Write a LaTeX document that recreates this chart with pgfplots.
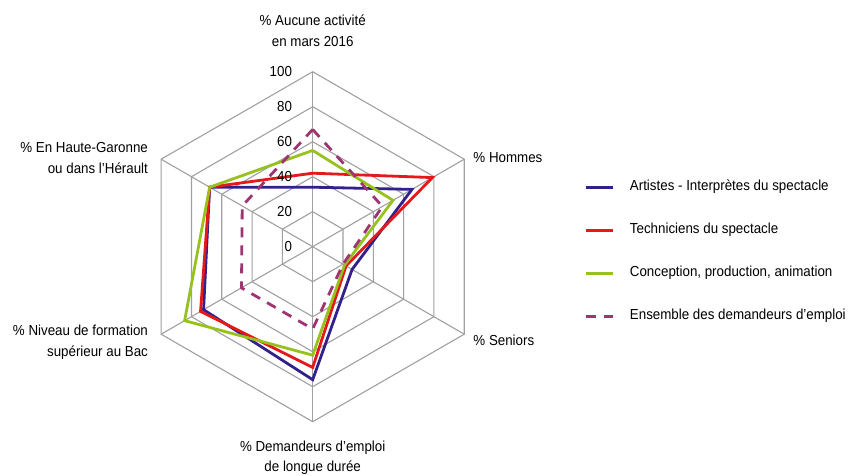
\documentclass[border=0pt]{standalone}
\usepackage{pgfplots}
\pgfplotsset{compat=1.18}
\usepgfplotslibrary{polar}
\usepackage{fontspec}
\setmainfont{Liberation Sans}[FakeStretch=0.92]
\definecolor{cblue}{HTML}{31218A}
\definecolor{cred}{HTML}{E3191B}
\definecolor{cgreen}{HTML}{97C21E}
\definecolor{cpurple}{HTML}{9E3470}
\definecolor{cgrid}{HTML}{A0A0A0}
\begin{document}
\begin{tikzpicture}
\useasboundingbox (-312.7pt,-229.3pt) rectangle (535.3pt,246.7pt);
\begin{polaraxis}[
  at={(0pt,0pt)}, anchor=center,
  scale only axis, width=350pt, height=350pt,
  ymin=0, ymax=100, xmin=0, xmax=360,
  hide axis, clip=false,
  font=\fontsize{14.5}{20.5}\selectfont,
  legend style={at={(axis description cs:1.275,0.486)}, anchor=west,
    draw=none, fill=none, inner sep=0pt, row sep=29.5pt, column sep=16pt,
    nodes={inner sep=0pt, text height=10.5pt, text depth=3pt},
    font=\fontsize{14.5}{17}\selectfont},
  legend cell align=left,
  legend image code/.code={\draw[#1] (0pt,0pt) -- (27pt,0pt);},
]
% grid hexagons
\foreach \r in {20,40,60,80,100}{
  \edef\tmp{\noexpand\addplot[cgrid, line width=1.1pt, forget plot] coordinates {(90,\r)(30,\r)(330,\r)(270,\r)(210,\r)(150,\r)(90,\r)};}
  \tmp
}
\addplot[cgrid, line width=1.1pt, forget plot] coordinates {(90,0)(90,100)};
\addplot[cgrid, line width=1.1pt, forget plot] coordinates {(30,0)(30,100)};
\addplot[cgrid, line width=1.1pt, forget plot] coordinates {(330,0)(330,100)};
\addplot[cgrid, line width=1.1pt, forget plot] coordinates {(270,0)(270,100)};
\addplot[cgrid, line width=1.1pt, forget plot] coordinates {(210,0)(210,100)};
\addplot[cgrid, line width=1.1pt, forget plot] coordinates {(150,0)(150,100)};
% data
\addplot[cblue, line width=2.8pt, line join=miter] coordinates {(90,34)(30,65.5)(330,26)(270,76)(210,72)(150,68)(90,34)};
\addlegendentry{Artistes - Interprètes du spectacle}
\addplot[cred, line width=2.8pt, line join=miter] coordinates {(90,42)(30,79)(330,22)(270,69)(210,74)(150,68)(90,42)};
\addlegendentry{Techniciens du spectacle}
\addplot[cgreen, line width=2.8pt, line join=miter] coordinates {(90,55)(30,53)(330,21)(270,62)(210,84.5)(150,68)(90,55)};
\addlegendentry{Conception, production, animation}
\addplot[cpurple, line width=2.8pt, dash pattern=on 10pt off 8pt, line join=miter] coordinates {(90,67)(30,46)(330,20)(270,47)(210,47)(150,46.5)(90,67)};
\addlegendentry{Ensemble des demandeurs d’emploi}
% tick labels
\foreach \r in {0,20,40,60,80,100}{
  \edef\tmp{\noexpand\node[anchor=east, inner sep=0pt, xshift=-20.5pt] at (axis cs:90,\r) {\r};}
  \tmp
}
% category labels
\node[align=center, inner sep=0pt] at (axis cs:90,123.3) {\% Aucune activité\\en mars 2016};
\node[anchor=west, inner sep=0pt, xshift=9pt, yshift=2pt] at (axis cs:30,100) {\% Hommes};
\node[anchor=west, inner sep=0pt, xshift=9pt, yshift=-6pt] at (axis cs:330,100) {\% Seniors};
\node[align=center, inner sep=0pt] at (axis cs:270,120.6) {\% Demandeurs d’emploi\\de longue durée};
\node[align=right, anchor=east, inner sep=0pt, xshift=-13pt, yshift=-8pt] at (axis cs:210,100) {\% Niveau de formation\\supérieur au Bac};
\node[align=right, anchor=east, inner sep=0pt, xshift=-13pt, yshift=1pt] at (axis cs:150,100) {\% En Haute-Garonne\\ou dans l’Hérault};
\end{polaraxis}
\end{tikzpicture}
\end{document}
